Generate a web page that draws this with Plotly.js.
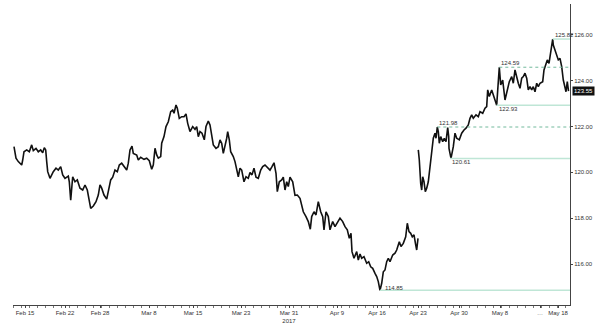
<!DOCTYPE html>
<html>
<head>
<meta charset="utf-8">
<script src="https://cdn.plot.ly/plotly-3.0.1.min.js"></script>
<style>
html,body{margin:0;padding:0;background:#fff;}
#chart{width:600px;height:324px;}
</style>
</head>
<body>
<div id="chart"></div>
<script>
// session index along the compressed trading-time axis
const t = [
1,3,5.3,8.7,9.7,11,13.7,16.3,18.7,20.3,23,25.3,27.7,29.7,31.3,32.7,33.7,34.7,37,38.7,40.3,43,45.3,47.7,49.7,52,55.3,56.3,57.7,59.7,62,64.3,67,69.7,72,74.3,76.3,77.7,80.3,83,85.3,87,88.7,91,93.7,95.3,97.7,99.7,102,104.3,106.3,108.7,111,113.7,115.3,117,119,120.3,123.7,125.3,127.7,131,133.7,136.3,
138.7,140.3,142,143.7,145.3,147.7,148.7,151,153,155.3,157.7,159.7,161,163,164.3,166.3,168.7,171,173,174.7,177,179.7,182,183.7,185.3,187,189,191.3,193,195.3,197,198.7,200.3,203,205.3,207,208.7,210.3,212,213.7,214.7,216.3,217.7,220.3,222,223.7,225.3,227,228.7,231,233,235.3,237,239,241,243,245.3,247.7,249.7,252,254.3,257,259,261,263,264.3,266.3,268.7,270.3,272,273.7,275.3,277,279.7,282,284.3,
287,288.7,290.3,293,295.3,297.3,298.7,301,303,305.3,307.7,309.7,311,313,315.3,317,319.7,322,324.3,327,329.7,332,334.3,336.3,338,339,341,343.7,345.3,347,348.7,351,353.7,355.7,357.7,359.7,362,363.7,365.3,367,368.7,370.3,372,373.7,375.3,377,379.7,382,383.7,386.3,388,390.3,392.7,394.3,396,397.7,399.3,401,402.7,403.7,405,
null,
405.3,406.3,407.7,408.7,409.7,411,412.3,413.7,415.3,417,418.7,420.3,422,423,424.3,425.3,426.3,427.7,429.7,431.3,433,434.7,435.7,436,438,440.3,442,443.7,446.3,448.7,451,453,455.3,457,458.7,460.3,463,465.3,467,469.7,472,473.7,474.7,476.3,478.7,480.3,482,483.7,485.3,486.3,487.7,489.7,492,493.7,496.3,498.7,500.3,502,503.7,505.3,507,508.7,510.3,512,513.7,515.3,517,518.7,520.3,522,523.7,525.3,527,529.7,531,532.7,534.3,536,537.7,539.7,540.3,542,543.7,545.3,547,548.7,550.3,552,553,554.3,555.5
];
const price = [
121.12,120.62,120.47,120.32,120.54,120.90,120.98,120.90,121.20,120.95,121.05,120.90,120.98,120.86,121.08,120.98,120.47,120.03,119.74,119.89,120.03,120.18,120.10,120.25,119.89,119.74,119.84,119.59,118.79,119.81,119.59,119.67,119.31,119.23,119.45,119.23,118.79,118.43,118.53,118.72,119.01,119.45,119.31,119.01,118.83,119.23,119.67,119.79,120.10,120.03,120.32,120.40,120.25,120.10,120.40,120.98,121.15,120.83,120.76,120.54,120.66,120.57,120.62,120.51,
120.14,120.32,121.05,120.76,120.62,120.69,121.27,121.56,122.00,122.21,122.65,122.72,122.58,122.94,122.80,122.36,122.43,122.43,122.55,122.14,121.78,122.00,121.88,122.00,121.56,121.78,121.71,121.42,122.00,122.24,122.07,121.63,121.20,121.05,121.12,121.42,121.27,120.83,121.12,121.49,121.78,121.42,120.90,120.69,120.47,120.03,119.81,120.18,120.10,119.59,119.81,119.74,119.99,119.89,120.18,119.79,119.74,120.10,120.25,120.32,120.22,120.10,120.25,120.42,119.96,119.16,119.59,119.67,119.79,119.23,119.59,119.38,119.79,119.59,
119.00,119.01,118.87,118.50,118.28,118.07,117.85,117.52,118.07,118.28,118.14,118.72,118.28,118.07,117.49,118.28,118.07,117.49,117.85,117.63,117.78,118.00,117.85,117.63,117.49,117.12,117.34,116.54,116.25,116.54,116.17,116.44,116.25,116.32,116.03,116.10,115.88,115.81,115.59,115.45,115.23,114.85,115.16,115.66,115.74,116.10,116.25,116.10,116.39,116.47,116.61,116.97,116.76,116.90,117.19,117.78,117.41,117.34,117.19,117.27,116.83,116.61,117.12,
null,
120.98,120.54,119.52,119.23,119.81,119.59,119.16,119.31,119.59,120.25,120.62,121.49,121.71,121.49,121.98,121.78,121.27,121.56,121.34,121.49,121.34,121.95,121.56,121.05,120.61,121.12,121.71,121.49,121.42,121.71,121.85,121.93,122.07,122.36,122.51,122.36,122.51,122.43,122.65,122.58,122.80,122.87,123.60,123.31,123.60,123.38,123.09,122.93,123.96,124.59,123.82,124.03,123.16,123.45,123.96,124.18,123.89,124.47,124.11,123.89,123.67,124.11,124.18,124.33,124.11,123.60,123.74,123.60,123.74,123.52,123.89,123.74,123.89,123.96,124.47,124.76,124.91,124.76,125.20,125.82,125.56,125.35,125.13,124.91,124.98,124.62,124.03,123.74,123.52,123.96,123.55
];
// marked levels: value, session index where it was set, style
const levelValues = [125.82, 124.59, 122.93, 121.98, 120.61, 114.85];
const levelStart  = [539.7, 486.3, 483.7, 424.3, 437, 367];
const levelKind   = ["solid", "dash", "solid", "dash", "solid", "solid"];
const levelLabelPos = ["above", "above", "below", "above", "below", "right"];
const lastPrice = 123.55;
const tickPos = [12, 52, 87, 136, 180, 228, 276, 324, 364, 405, 446, 487, 527, 545];
const tickLabels = ["Feb 15","Feb 22","Feb 28","Mar 8","Mar 15","Mar 23","Mar 31<br>2017","Apr 9","Apr 16","Apr 23","Apr 30","May 8","…","May 18"];
const yTicks = [116, 118, 120, 122, 124, 126];

const FONT = "Liberation Sans, Arial, sans-serif";
const XMAX = 557;

const shapes = levelValues.map((v, i) => ({
  type: "line", xref: "x", yref: "y",
  x0: levelStart[i], x1: XMAX, y0: v, y1: v,
  line: levelKind[i] === "dash"
    ? {color: "#72b99c", width: 1, dash: "dot"}
    : {color: "#bfe6d6", width: 1.5}
}));

const annotations = levelValues.map((v, i) => {
  const p = levelLabelPos[i];
  const a = {
    x: levelStart[i], y: v, xref: "x", yref: "y",
    text: v.toFixed(2), showarrow: false,
    font: {family: FONT, size: 6, color: "#333"},
    xanchor: "left"
  };
  if (p === "above") { a.yanchor = "bottom"; a.yshift = -1; }
  else if (p === "below") { a.yanchor = "top"; a.yshift = 1; }
  else { a.yanchor = "middle"; a.xshift = 3; a.yshift = 2; }
  return a;
});
annotations.push({
  x: 1, xref: "paper", y: lastPrice, yref: "y",
  text: lastPrice.toFixed(2), showarrow: false,
  xanchor: "left", yanchor: "middle", xshift: 2,
  bgcolor: "#111", borderpad: 1,
  font: {family: FONT, size: 6, color: "#fff"}
});

const trace = {
  x: t, y: price, type: "scatter", mode: "lines",
  connectgaps: false,
  line: {color: "#111", width: 1.6, shape: "linear"},
  hoverinfo: "skip"
};

const layout = {
  width: 600, height: 324,
  margin: {l: 13, r: 30, t: 4, b: 19},
  paper_bgcolor: "#fff", plot_bgcolor: "#fff",
  showlegend: false,
  xaxis: {
    range: [0, XMAX], showgrid: false, zeroline: false,
    showline: true, linecolor: "#444", linewidth: 1,
    tickmode: "array", tickvals: tickPos, ticktext: tickLabels,
    ticks: "outside", ticklen: 2, tickcolor: "#444",
    tickfont: {family: FONT, size: 6, color: "#333"},
    minor: {dtick: 8, tick0: 0, ticks: "outside", ticklen: 1.5, tickcolor: "#777", showgrid: false}
  },
  yaxis: {
    range: [114.21, 127.35], side: "right", showgrid: false, zeroline: false,
    showline: true, linecolor: "#444", linewidth: 1,
    tickmode: "array", tickvals: yTicks, ticktext: yTicks.map(v => v.toFixed(2)),
    ticks: "outside", ticklen: 2, tickcolor: "#444",
    tickfont: {family: FONT, size: 6, color: "#333"}
  },
  shapes: shapes,
  annotations: annotations
};

Plotly.newPlot("chart", [trace], layout, {staticPlot: true, displayModeBar: false});
</script>
</body>
</html>
